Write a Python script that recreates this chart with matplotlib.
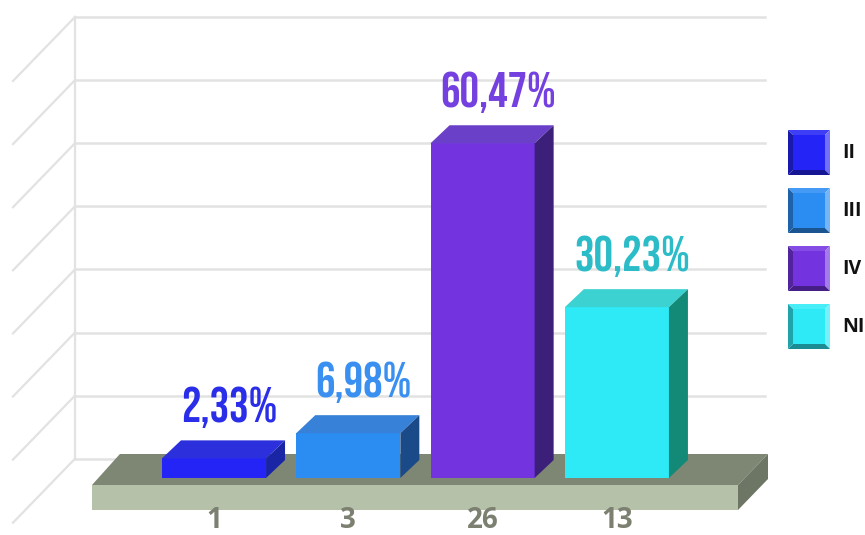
import matplotlib
matplotlib.use("Agg")
import matplotlib.pyplot as plt
from matplotlib.patches import Polygon
from matplotlib.lines import Line2D
import matplotlib.colors as mcolors

# ---- data -------------------------------------------------------------
categories = ["II", "III", "IV", "NI"]
counts = [1, 3, 26, 13]
percents = [2.33, 6.98, 60.47, 30.23]

# ---- styling ----------------------------------------------------------
front_colors = ["#2424f6", "#2b8cf2", "#7334e0", "#2eeaf6"]
top_colors = ["#2c30dc", "#3782d8", "#6b40c8", "#3cd2d2"]
side_colors = ["#1a25a6", "#1b4a88", "#3b1f78", "#138a78"]
label_colors = ["#2b2ee8", "#3a90f0", "#7440e0", "#2bbcc8"]

W, H = 865, 535
fig = plt.figure(figsize=(W / 100, H / 100), dpi=100)
ax = fig.add_axes([0, 0, 1, 1])
ax.set_axis_off()

# scale: one category step and one percent expressed in pixels
XPX, YPX = 134.3, 5.42
X0_PX, Y0_PX = 214, 471          # pixel position of category 0 / value 0
ax.set_xlim(-X0_PX / XPX, (W - X0_PX) / XPX)
ax.set_ylim(-(H - Y0_PX) / YPX, Y0_PX / YPX)


def gx(px):
    return (px - X0_PX) / XPX


def gy(py):
    return (Y0_PX - py) / YPX


grid_col = "#e2e2e2"
# back wall and side grid
ax.add_line(Line2D([gx(75), gx(75)], [gy(17), gy(459)], color=grid_col, lw=1.6, zorder=1))
for k in range(8):
    py = 17 + 63.1 * k
    ax.add_line(Line2D([gx(75), gx(765)], [gy(py), gy(py)], color=grid_col, lw=1.8, zorder=1))
    ax.add_line(Line2D([gx(75), gx(13)], [gy(py), gy(py + 64)], color=grid_col, lw=1.6, zorder=1))

# floor slab
fl, fr = gx(92), gx(738)
ft, fb = gy(485), gy(510)
fdx, fdy = 30 / XPX, 31 / YPX
ax.add_patch(Polygon([(fl, ft), (fr, ft), (fr + fdx, ft + fdy), (fl + fdx * 0.93, ft + fdy)],
                     closed=True, fc="#7e8773", ec="none", zorder=2))
ax.add_patch(Polygon([(fl, fb), (fr, fb), (fr, ft), (fl, ft)],
                     closed=True, fc="#b5c1a9", ec="none", zorder=2))
ax.add_patch(Polygon([(fr, fb), (fr + fdx, fb + fdy), (fr + fdx, ft + fdy), (fr, ft)],
                     closed=True, fc="#6d7664", ec="none", zorder=2))

# bars
half = 0.3875
ddx, ddy = 19 / XPX, 18 / YPX
base = gy(478)
for i, (v, n) in enumerate(zip(percents, counts)):
    l, r = i - half, i + half
    ax.add_patch(Polygon([(l, base), (r, base), (r, v), (l, v)], closed=True,
                         fc=front_colors[i], ec="none", zorder=3))
    ax.add_patch(Polygon([(l, v), (r, v), (r + ddx, v + ddy), (l + ddx, v + ddy)], closed=True,
                         fc=top_colors[i], ec="none", zorder=3))
    ax.add_patch(Polygon([(r, base), (r + ddx, base + ddy), (r + ddx, v + ddy), (r, v)], closed=True,
                         fc=side_colors[i], ec="none", zorder=3))
    ax.text(i + ddx / 2 + 6 / XPX, v + ddy + 12 / YPX, f"{v:.2f}".replace(".", ",") + "%",
            ha="center", va="bottom", fontsize=35,
            family=["Bebas Neue", "DejaVu Sans"], color=label_colors[i], zorder=4)
    ax.text(i, gy(521), str(n), ha="center", va="center", fontsize=20,
            fontweight="bold", family=["Open Sans", "DejaVu Sans"], color="#7b8070", zorder=4)


# legend with bevelled swatches (figure pixels)
def fp(x, y):
    return (x / W, 1 - y / H)


def shade(c, f):
    r, g, b = mcolors.to_rgb(c)
    if f >= 0:
        return (r + (1 - r) * f, g + (1 - g) * f, b + (1 - b) * f)
    return (r * (1 + f), g * (1 + f), b * (1 + f))


for i, cat in enumerate(categories):
    x0, y0 = 788, 130 + 58 * i
    w, h, b = 42, 45, 5
    c = front_colors[i]
    x1, y1 = x0 + w, y0 + h
    faces = [
        ([(x0, y0), (x1, y0), (x1 - b, y0 + b), (x0 + b, y0 + b)], shade(c, 0.12)),
        ([(x1, y0), (x1, y1), (x1 - b, y1 - b), (x1 - b, y0 + b)], shade(c, 0.35)),
        ([(x0, y1), (x1, y1), (x1 - b, y1 - b), (x0 + b, y1 - b)], shade(c, -0.4)),
        ([(x0, y0), (x0, y1), (x0 + b, y1 - b), (x0 + b, y0 + b)], shade(c, -0.3)),
        ([(x0 + b, y0 + b), (x1 - b, y0 + b), (x1 - b, y1 - b), (x0 + b, y1 - b)], c),
    ]
    for pts, col in faces:
        fig.add_artist(Polygon([fp(*p) for p in pts], closed=True, fc=col, ec="none",
                               transform=fig.transFigure))
    fig.text(*fp(842, y0 + h / 2), cat, ha="left", va="center", fontsize=14,
             fontweight="bold", family=["Open Sans", "DejaVu Sans"], color="#111111")

fig.savefig("out.png", dpi=100, facecolor="white")
